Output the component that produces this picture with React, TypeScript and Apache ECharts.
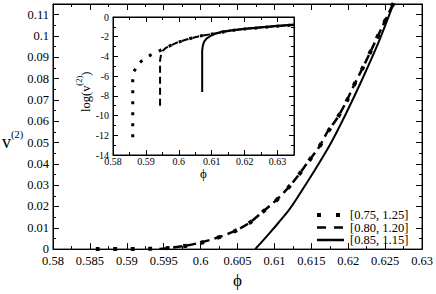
import React, { useEffect, useRef } from "react";
import * as echarts from "echarts";

// ---- main panel data (v^(2) vs phi) ----
const phiDotted = [0.5858, 0.588, 0.5905, 0.5928, 0.5952, 0.5976, 0.5999, 0.6022, 0.6045, 0.6065, 0.6083, 0.6101, 0.6117, 0.6132, 0.6145, 0.616, 0.6172, 0.6185, 0.6197, 0.6207, 0.622, 0.6232, 0.6247, 0.6262];
const vDotted = [0, 0, 0, 0.0001, 0.0004, 0.0013, 0.0028, 0.0052, 0.0082, 0.012, 0.0171, 0.0224, 0.0281, 0.0343, 0.0406, 0.0476, 0.0548, 0.0614, 0.0688, 0.0763, 0.0853, 0.094, 0.105, 0.1158];
const phiDashed = [0.5944, 0.5952, 0.5976, 0.5999, 0.6022, 0.6045, 0.6065, 0.6083, 0.6101, 0.6117, 0.6132, 0.6145, 0.616, 0.6172, 0.6185, 0.6197, 0.6207, 0.622, 0.6232, 0.6247, 0.6262];
const vDashed = [0, 0.0003, 0.0014, 0.003, 0.0053, 0.0083, 0.0121, 0.0172, 0.0225, 0.0281, 0.0344, 0.0407, 0.0476, 0.0551, 0.0614, 0.069, 0.0763, 0.0853, 0.094, 0.105, 0.1158];
const phiSolid = [0.6074, 0.6082, 0.6094, 0.6106, 0.612, 0.6133, 0.6155, 0.6176, 0.6196, 0.6218, 0.6241, 0.6262];
const vSolid = [0, 0.003, 0.0077, 0.0126, 0.0185, 0.0252, 0.0372, 0.0494, 0.0629, 0.079, 0.097, 0.1158];

// ---- inset data (log(v^(2)) vs phi) ----
const phiDottedLog = [0.586, 0.586, 0.5863, 0.5875, 0.59, 0.5931, 0.5961, 0.5994, 0.6026, 0.6064, 0.6095, 0.6125, 0.6155, 0.62, 0.625, 0.63, 0.635];
const logDotted = [-12.2, -6.4, -5.6, -4.8, -4.1, -3.6, -3.1, -2.6, -2.26, -1.93, -1.76, -1.59, -1.39, -1.22, -1.07, -0.93, -0.81];
const phiDashedLog = [0.5943, 0.5943, 0.5946, 0.5952, 0.5962, 0.5994, 0.6026, 0.6064, 0.6095, 0.6125, 0.6155, 0.62, 0.625, 0.63, 0.635];
const logDashed = [-9.0, -4.4, -3.8, -3.4, -3.1, -2.6, -2.26, -1.93, -1.76, -1.59, -1.39, -1.22, -1.07, -0.93, -0.81];
const phiSolidLog = [0.6071, 0.6071, 0.6073, 0.6077, 0.6084, 0.6095, 0.611, 0.613, 0.6155, 0.62, 0.625, 0.63, 0.635];
const logSolid = [-7.6, -3.4, -2.9, -2.5, -2.2, -1.95, -1.7, -1.5, -1.36, -1.19, -1.03, -0.89, -0.76];

// ---- legend texts ----
const seriesNames = ["[0.75, 1.25]", "[0.80, 1.20]", "[0.85, 1.15]"];

const zip = (xs: number[], ys: number[]) => xs.map((x, i) => [x, ys[i]]);

const SERIF = "Liberation Serif";
const INK = "#000";

function axis(opts: any) {
  const {
    gridIndex, min, max, interval, position, labels, fontSize, margin,
    tickLen, minorLen, name, nameGap, nameSize, showMax,
  } = opts;
  return {
    type: "value",
    gridIndex,
    min,
    max,
    interval,
    position,
    name: name || "",
    nameLocation: "middle",
    nameGap: nameGap || 0,
    nameTextStyle: { fontFamily: SERIF, fontSize: nameSize || 12, color: INK },
    axisLine: { show: true, onZero: false, lineStyle: { color: INK, width: 1 } },
    axisTick: { show: true, inside: true, length: tickLen, lineStyle: { color: INK, width: 1 } },
    minorTick: { show: true, splitNumber: 2, length: minorLen, lineStyle: { color: INK, width: 1 } },
    splitLine: { show: false },
    minorSplitLine: { show: false },
    axisLabel: {
      show: labels,
      fontFamily: SERIF,
      fontSize,
      color: INK,
      margin,
      showMaxLabel: showMax ? true : false,
      showMinLabel: true,
    },
  };
}

export default function App() {
  const ref = useRef<HTMLDivElement>(null);

  useEffect(() => {
    if (!ref.current) return;
    const chart = echarts.init(ref.current, undefined, { renderer: "svg" });

    const mainX = { min: 0.58, max: 0.63, interval: 0.005 };
    const mainY = { min: 0, max: 0.115, interval: 0.01 };
    const insX = { min: 0.58, max: 0.635, interval: 0.01 };
    const insY = { min: -14, max: 0, interval: 2 };

    // legend drawn as graphic elements (line style swatches + labels)
    const legX = 317, legW = 27, legTextX = 350;
    const legRows = [215, 227.5, 240];
    const legStyles = [
      { lineWidth: 4, lineDash: [4, 15] },
      { lineWidth: 2.5, lineDash: [9, 8] },
      { lineWidth: 2.5, lineDash: null },
    ];
    const legend: any[] = [];
    seriesNames.forEach((nm, i) => {
      legend.push({
        type: "line",
        z: 20,
        shape: { x1: legX, y1: legRows[i], x2: legX + legW, y2: legRows[i] },
        style: { stroke: INK, lineWidth: legStyles[i].lineWidth, lineDash: legStyles[i].lineDash, lineCap: "butt" },
      });
      legend.push({
        type: "text",
        z: 20,
        x: legTextX,
        y: legRows[i],
        style: { text: nm, fontFamily: SERIF, fontSize: 12.5, fill: "#000000", verticalAlign: "middle", align: "left" },
      });
    });

    const option: any = {
      animation: false,
      backgroundColor: "#fff",
      textStyle: { fontFamily: SERIF },
      grid: [
        { left: 53, top: 4, width: 371, height: 256, show: true, borderColor: INK, borderWidth: 1, backgroundColor: "#fff" },
        { left: 113, top: 17, width: 181, height: 138, show: true, borderColor: INK, borderWidth: 1, backgroundColor: "#fff", z: 5 },
      ],
      xAxis: [
        axis({ gridIndex: 0, ...mainX, position: "bottom", labels: true, fontSize: 12.5, margin: 5, tickLen: 6, minorLen: 3, name: "ϕ", nameGap: 17, nameSize: 17, showMax: true }),
        axis({ gridIndex: 0, ...mainX, position: "top", labels: false, fontSize: 12, margin: 4, tickLen: 6, minorLen: 3 }),
        { ...axis({ gridIndex: 1, ...insX, position: "bottom", labels: true, fontSize: 10, margin: 1, tickLen: 5, minorLen: 3, name: "ϕ", nameGap: 9, nameSize: 13 }), z: 6 },
        { ...axis({ gridIndex: 1, ...insX, position: "top", labels: false, fontSize: 10, margin: 1, tickLen: 5, minorLen: 3 }), z: 6 },
      ],
      yAxis: [
        axis({ gridIndex: 0, ...mainY, position: "left", labels: true, fontSize: 12.5, margin: 4, tickLen: 6, minorLen: 3 }),
        axis({ gridIndex: 0, ...mainY, position: "right", labels: false, fontSize: 12, margin: 4, tickLen: 6, minorLen: 3 }),
        { ...axis({ gridIndex: 1, ...insY, position: "left", labels: true, fontSize: 10, margin: 4, tickLen: 5, minorLen: 3, showMax: true }), z: 6 },
        { ...axis({ gridIndex: 1, ...insY, position: "right", labels: false, fontSize: 10, margin: 4, tickLen: 5, minorLen: 3 }), z: 6 },
      ],
      series: [
        {
          name: seriesNames[0], type: "line", xAxisIndex: 0, yAxisIndex: 0,
          data: zip(phiDotted, vDotted), symbol: "none", showSymbol: false, smooth: 0.3,
          lineStyle: { color: INK, width: 4, type: [4, 13.5], cap: "butt" },
        },
        {
          name: seriesNames[1], type: "line", xAxisIndex: 0, yAxisIndex: 0,
          data: zip(phiDashed, vDashed), symbol: "none", showSymbol: false, smooth: 0.3,
          lineStyle: { color: INK, width: 2.5, type: [9, 5], cap: "butt" },
        },
        {
          name: seriesNames[2], type: "line", xAxisIndex: 0, yAxisIndex: 0,
          data: zip(phiSolid, vSolid), symbol: "none", showSymbol: false, smooth: 0.3,
          lineStyle: { color: INK, width: 2 },
        },
        {
          name: "inset " + seriesNames[0], type: "line", xAxisIndex: 2, yAxisIndex: 2, z: 7,
          data: zip(phiDottedLog, logDotted), symbol: "none", showSymbol: false,
          lineStyle: { color: INK, width: 3, type: [3, 8], cap: "butt" },
        },
        {
          name: "inset " + seriesNames[1], type: "line", xAxisIndex: 2, yAxisIndex: 2, z: 7,
          data: zip(phiDashedLog, logDashed), symbol: "none", showSymbol: false,
          lineStyle: { color: INK, width: 2, type: [7, 4], cap: "butt" },
        },
        {
          name: "inset " + seriesNames[2], type: "line", xAxisIndex: 2, yAxisIndex: 2, z: 7,
          data: zip(phiSolidLog, logSolid), symbol: "none", showSymbol: false,
          lineStyle: { color: INK, width: 2 },
        },
      ],
      graphic: [
        {
          type: "text",
          left: 2,
          top: 129,
          z: 10,
          style: {
            text: "{a|v}{s|(2)}",
            rich: {
              a: { fontFamily: SERIF, fontSize: 18, lineHeight: 22, verticalAlign: "bottom", fill: INK },
              s: { fontFamily: SERIF, fontSize: 10.5, lineHeight: 10, verticalAlign: "top", fill: INK },
            },
          },
        },
        {
          type: "text",
          x: 74,
          y: 112,
          rotation: Math.PI / 2,
          z: 10,
          style: {
            text: "{a|log(v}{s|(2)}{a|)}",
            rich: {
              a: { fontFamily: SERIF, fontSize: 12.5, lineHeight: 18, verticalAlign: "bottom", fill: INK },
              s: { fontFamily: SERIF, fontSize: 8.5, lineHeight: 8, verticalAlign: "top", fill: INK },
            },
          },
        },
        ...legend,
      ],
    };

    chart.setOption(option);
    return () => chart.dispose();
  }, []);

  return <div ref={ref} style={{ width: 436, height: 294, position: "absolute", left: 0, top: 0 }} />;
}
